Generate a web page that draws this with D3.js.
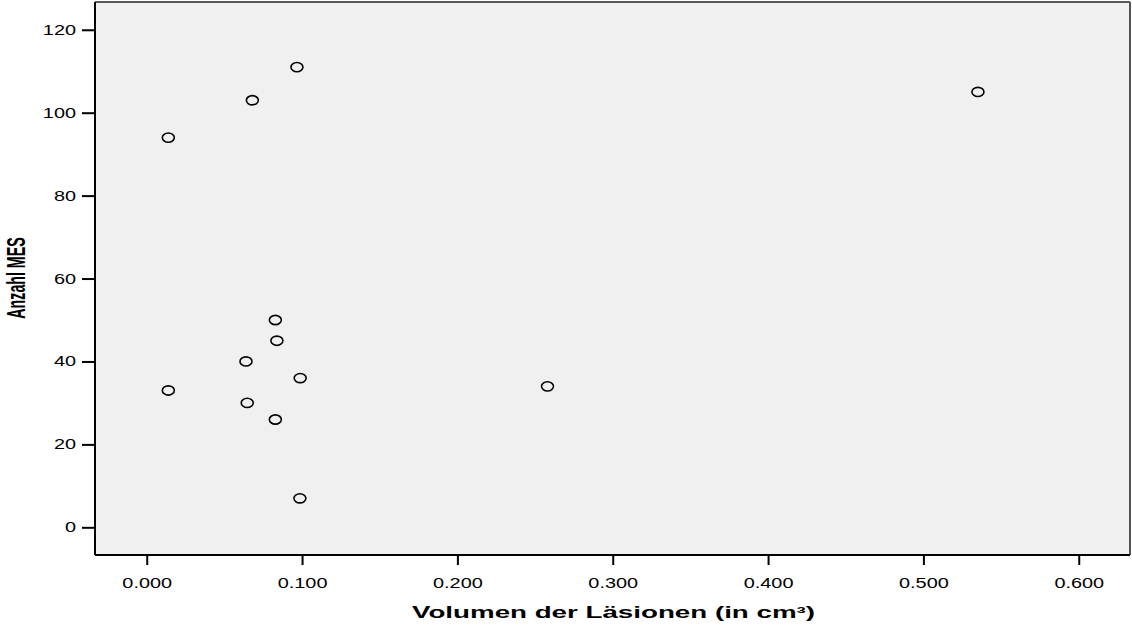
<!DOCTYPE html>
<html>
<head>
<meta charset="utf-8">
<script src="https://cdn.jsdelivr.net/npm/d3@7"></script>
<style>
  body { margin: 0; background: #fff; }
  svg { display: block; }
  .tick text { font-family: "Liberation Sans", Arial, sans-serif; font-size: 14px; fill: #000; }
</style>
</head>
<body>
<div id="chart"></div>
<script>
// Volumen der Läsionen (cm³) vs. Anzahl MES
var volumen = [0.0967, 0.0680, 0.0139, 0.5351, 0.0828, 0.0838, 0.0639,
               0.0988, 0.0139, 0.2580, 0.0647, 0.0828, 0.0986];
var anzahlMES = [111, 103, 94, 105, 50, 45, 40, 36, 33, 34, 30, 26, 7];

var xTicks = [0, 0.1, 0.2, 0.3, 0.4, 0.5, 0.6];
var yTicks = [0, 20, 40, 60, 80, 100, 120];

var width = 1132, height = 628;
var margin = { top: 2, right: 2, bottom: 73, left: 95 };
var innerW = width - margin.left - margin.right,
    innerH = height - margin.top - margin.bottom;

// text in the original is stretched horizontally
var stretch = 1.42;

var svg = d3.select("#chart").append("svg")
    .attr("width", width)
    .attr("height", height);

var g = svg.append("g")
    .attr("transform", "translate(" + margin.left + "," + margin.top + ")");

var x = d3.scaleLinear()
    .domain([-0.0333, 0.633])
    .range([0, innerW]);

var y = d3.scaleLinear()
    .domain([-6.68, 126.7])
    .range([innerH, 0]);

// Plot background
g.append("rect")
    .attr("width", innerW)
    .attr("height", innerH)
    .style("fill", "#f0f0f0");

// frame: top + right
g.append("line")
    .attr("x1", 0).attr("x2", innerW)
    .attr("y1", 0).attr("y2", 0)
    .style("stroke", "#222")
    .style("stroke-width", 1.5);
g.append("line")
    .attr("x1", innerW).attr("x2", innerW)
    .attr("y1", 0).attr("y2", innerH)
    .style("stroke", "#555")
    .style("stroke-width", 2);

// Axes
var xAxis = g.append("g")
    .attr("transform", "translate(0," + innerH + ")")
    .call(d3.axisBottom(x)
      .tickValues(xTicks)
      .tickFormat(d3.format(".3f"))
      .tickSize(10)
      .tickPadding(13));

var yAxis = g.append("g")
    .call(d3.axisLeft(y)
      .tickValues(yTicks)
      .tickSize(13)
      .tickPadding(6));

[xAxis, yAxis].forEach(function(a) {
  a.select(".domain").remove();
  a.selectAll(".tick line")
      .style("stroke", "#000")
      .style("stroke-width", 2);
  a.selectAll(".tick text")
      .attr("transform", "scale(" + stretch + ",1)");
});
yAxis.selectAll(".tick text")
    .attr("x", -19 / stretch);

// axis lines
g.append("line")
    .attr("x1", 0).attr("x2", 0)
    .attr("y1", 0).attr("y2", innerH)
    .style("stroke", "#000")
    .style("stroke-width", 2);
g.append("line")
    .attr("x1", 0).attr("x2", innerW)
    .attr("y1", innerH).attr("y2", innerH)
    .style("stroke", "#000")
    .style("stroke-width", 2);

// Points
g.append("g").selectAll("ellipse")
    .data(volumen)
  .enter().append("ellipse")
    .attr("cx", function(d) { return x(d); })
    .attr("cy", function(d, i) { return y(anzahlMES[i]); })
    .attr("rx", 6)
    .attr("ry", 4.6)
    .style("fill", "none")
    .style("stroke", "#000")
    .style("stroke-width", 1.6);

// Axis titles
svg.append("text")
    .attr("x", 412)
    .attr("y", 618)
    .attr("textLength", 403)
    .attr("lengthAdjust", "spacingAndGlyphs")
    .style("font-family", "'Liberation Sans', Arial, sans-serif")
    .style("font-weight", "bold")
    .style("font-size", "16px")
    .text("Volumen der Läsionen (in cm³)");

svg.append("text")
    .attr("transform", "translate(25,278) scale(1.78,1) rotate(-90)")
    .attr("text-anchor", "middle")
    .style("font-family", "'Liberation Sans', Arial, sans-serif")
    .style("font-weight", "bold")
    .style("font-size", "14.2px")
    .text("Anzahl MES");
</script>
</body>
</html>
